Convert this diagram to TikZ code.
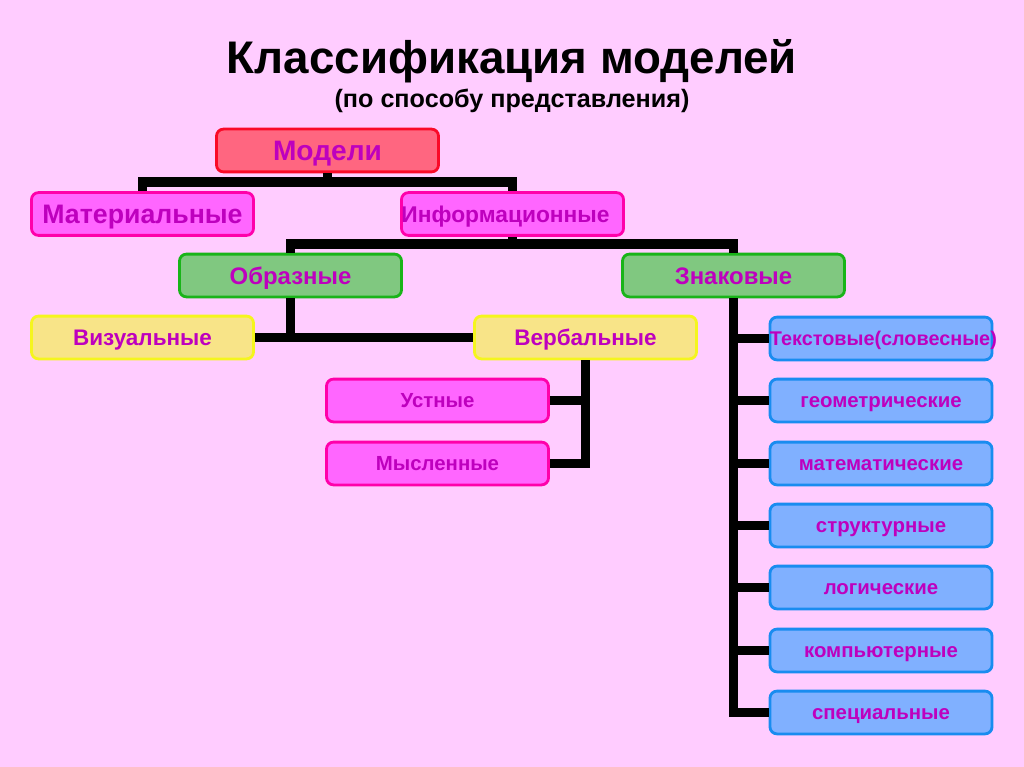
\documentclass[tikz,border=0pt]{standalone}
\usepackage{fontspec}
\setmainfont{Liberation Sans}
\usetikzlibrary{calc}
\usepackage{color}

\definecolor{bgpink}{RGB}{255,204,255}
\definecolor{txtpurple}{RGB}{190,0,190}
\definecolor{redfill}{RGB}{255,102,128}
\definecolor{reddraw}{RGB}{250,10,40}
\definecolor{magfill}{RGB}{255,102,255}
\definecolor{magdraw}{RGB}{255,0,170}
\definecolor{grnfill}{RGB}{128,200,128}
\definecolor{grndraw}{RGB}{25,180,25}
\definecolor{yelfill}{RGB}{248,228,136}
\definecolor{yeldraw}{RGB}{245,245,30}
\definecolor{blufill}{RGB}{128,176,255}
\definecolor{bludraw}{RGB}{25,140,240}

\begin{document}
\begin{tikzpicture}
[x=0.025cm,y=-0.025cm,
 box/.style={draw,rounded corners=5pt,line width=2pt,minimum width=5.55cm,minimum height=1.07cm,
   text width=5.55cm,align=center,text height=13.6pt,text depth=0pt,
   inner sep=0pt,text=txtpurple,font=\bfseries\fontsize{19}{22}\selectfont},
 smallbox/.style={box,text height=10.4pt,font=\bfseries\fontsize{14.5}{17}\selectfont},
 redbox/.style={box,fill=redfill,draw=reddraw,text height=14.3pt,font=\bfseries\fontsize{20}{24}\selectfont},
 magbox/.style={box,fill=magfill,draw=magdraw},
 grnbox/.style={box,fill=grnfill,draw=grndraw,text height=12.2pt,font=\bfseries\fontsize{17}{20}\selectfont},
 yelbox/.style={box,fill=yelfill,draw=yeldraw,text height=11.5pt,font=\bfseries\fontsize{16}{19}\selectfont},
 lilbox/.style={smallbox,fill=magfill,draw=magdraw},
 blubox/.style={smallbox,fill=blufill,draw=bludraw},
 link/.style={line width=7pt,black}]

% the background
\fill[bgpink] (0,0) rectangle (1024,767);
\useasboundingbox (0,0) rectangle (1024,767);

% the title
\node[font=\bfseries\fontsize{32.5}{38}\selectfont] (title) at (512,61) {Классификация моделей};
\node[font=\bfseries\fontsize{17.9}{21}\selectfont] (subtitle) at (512,101) {(по способу представления)};

% the boxes
\node[redbox] (mod) at (327.5,150.5) {Модели};
\node[magbox] (mat) at (142.5,214) {Материальные};
\node[magbox,align=left,text height=11.6pt,font=\bfseries\fontsize{16.2}{19}\selectfont] (inf) at (512.5,214) {Информационные};
\node[grnbox] (obr) at (290.5,275.5) {Образные};
\node[grnbox] (zn) at (733.5,275.5) {Знаковые};
\node[yelbox] (viz) at (142.5,337.5) {Визуальные};
\node[yelbox] (verb) at (585.5,337.5) {Вербальные};
\node[lilbox] (ust) at (437.5,400.5) {Устные};
\node[lilbox] (mysl) at (437.5,463.5) {Мысленные};

\node[blubox,font=\bfseries\fontsize{14.1}{17}\selectfont] (b1) at (881,338.5) {Текстовые(словесные)};
\node[blubox] (b2) at (881,400.5) {геометрические};
\node[blubox] (b3) at (881,463.5) {математические};
\node[blubox] (b4) at (881,525.5) {структурные};
\node[blubox] (b5) at (881,587.5) {логические};
\node[blubox] (b6) at (881,650.5) {компьютерные};
\node[blubox] (b7) at (881,712.5) {специальные};

% the junctions
\coordinate (j1) at (327.5,182);
\coordinate (j2) at (512.5,244);

% the links
\draw[link] (mod.south) -- (j1);
\draw[link] (mat.north) |- (j1) -| (inf.north);
\draw[link] (inf.south) -- (j2);
\draw[link] (obr.north) |- (j2) -| (zn.north);
\draw[link] (obr.south) -- (obr.south |- viz.east);
\draw[link] (viz.east) -- (verb.west);
\draw[link] (verb.south) |- (mysl.east);
\draw[link] (ust.east) -- (ust.east -| verb.south);
\draw[link] (zn.south) |- (b7.west);
\foreach \i in {1,...,6}
  \draw[link] (b\i.west) -- (b\i.west -| zn.south);

%
\end{tikzpicture}
\end{document}
